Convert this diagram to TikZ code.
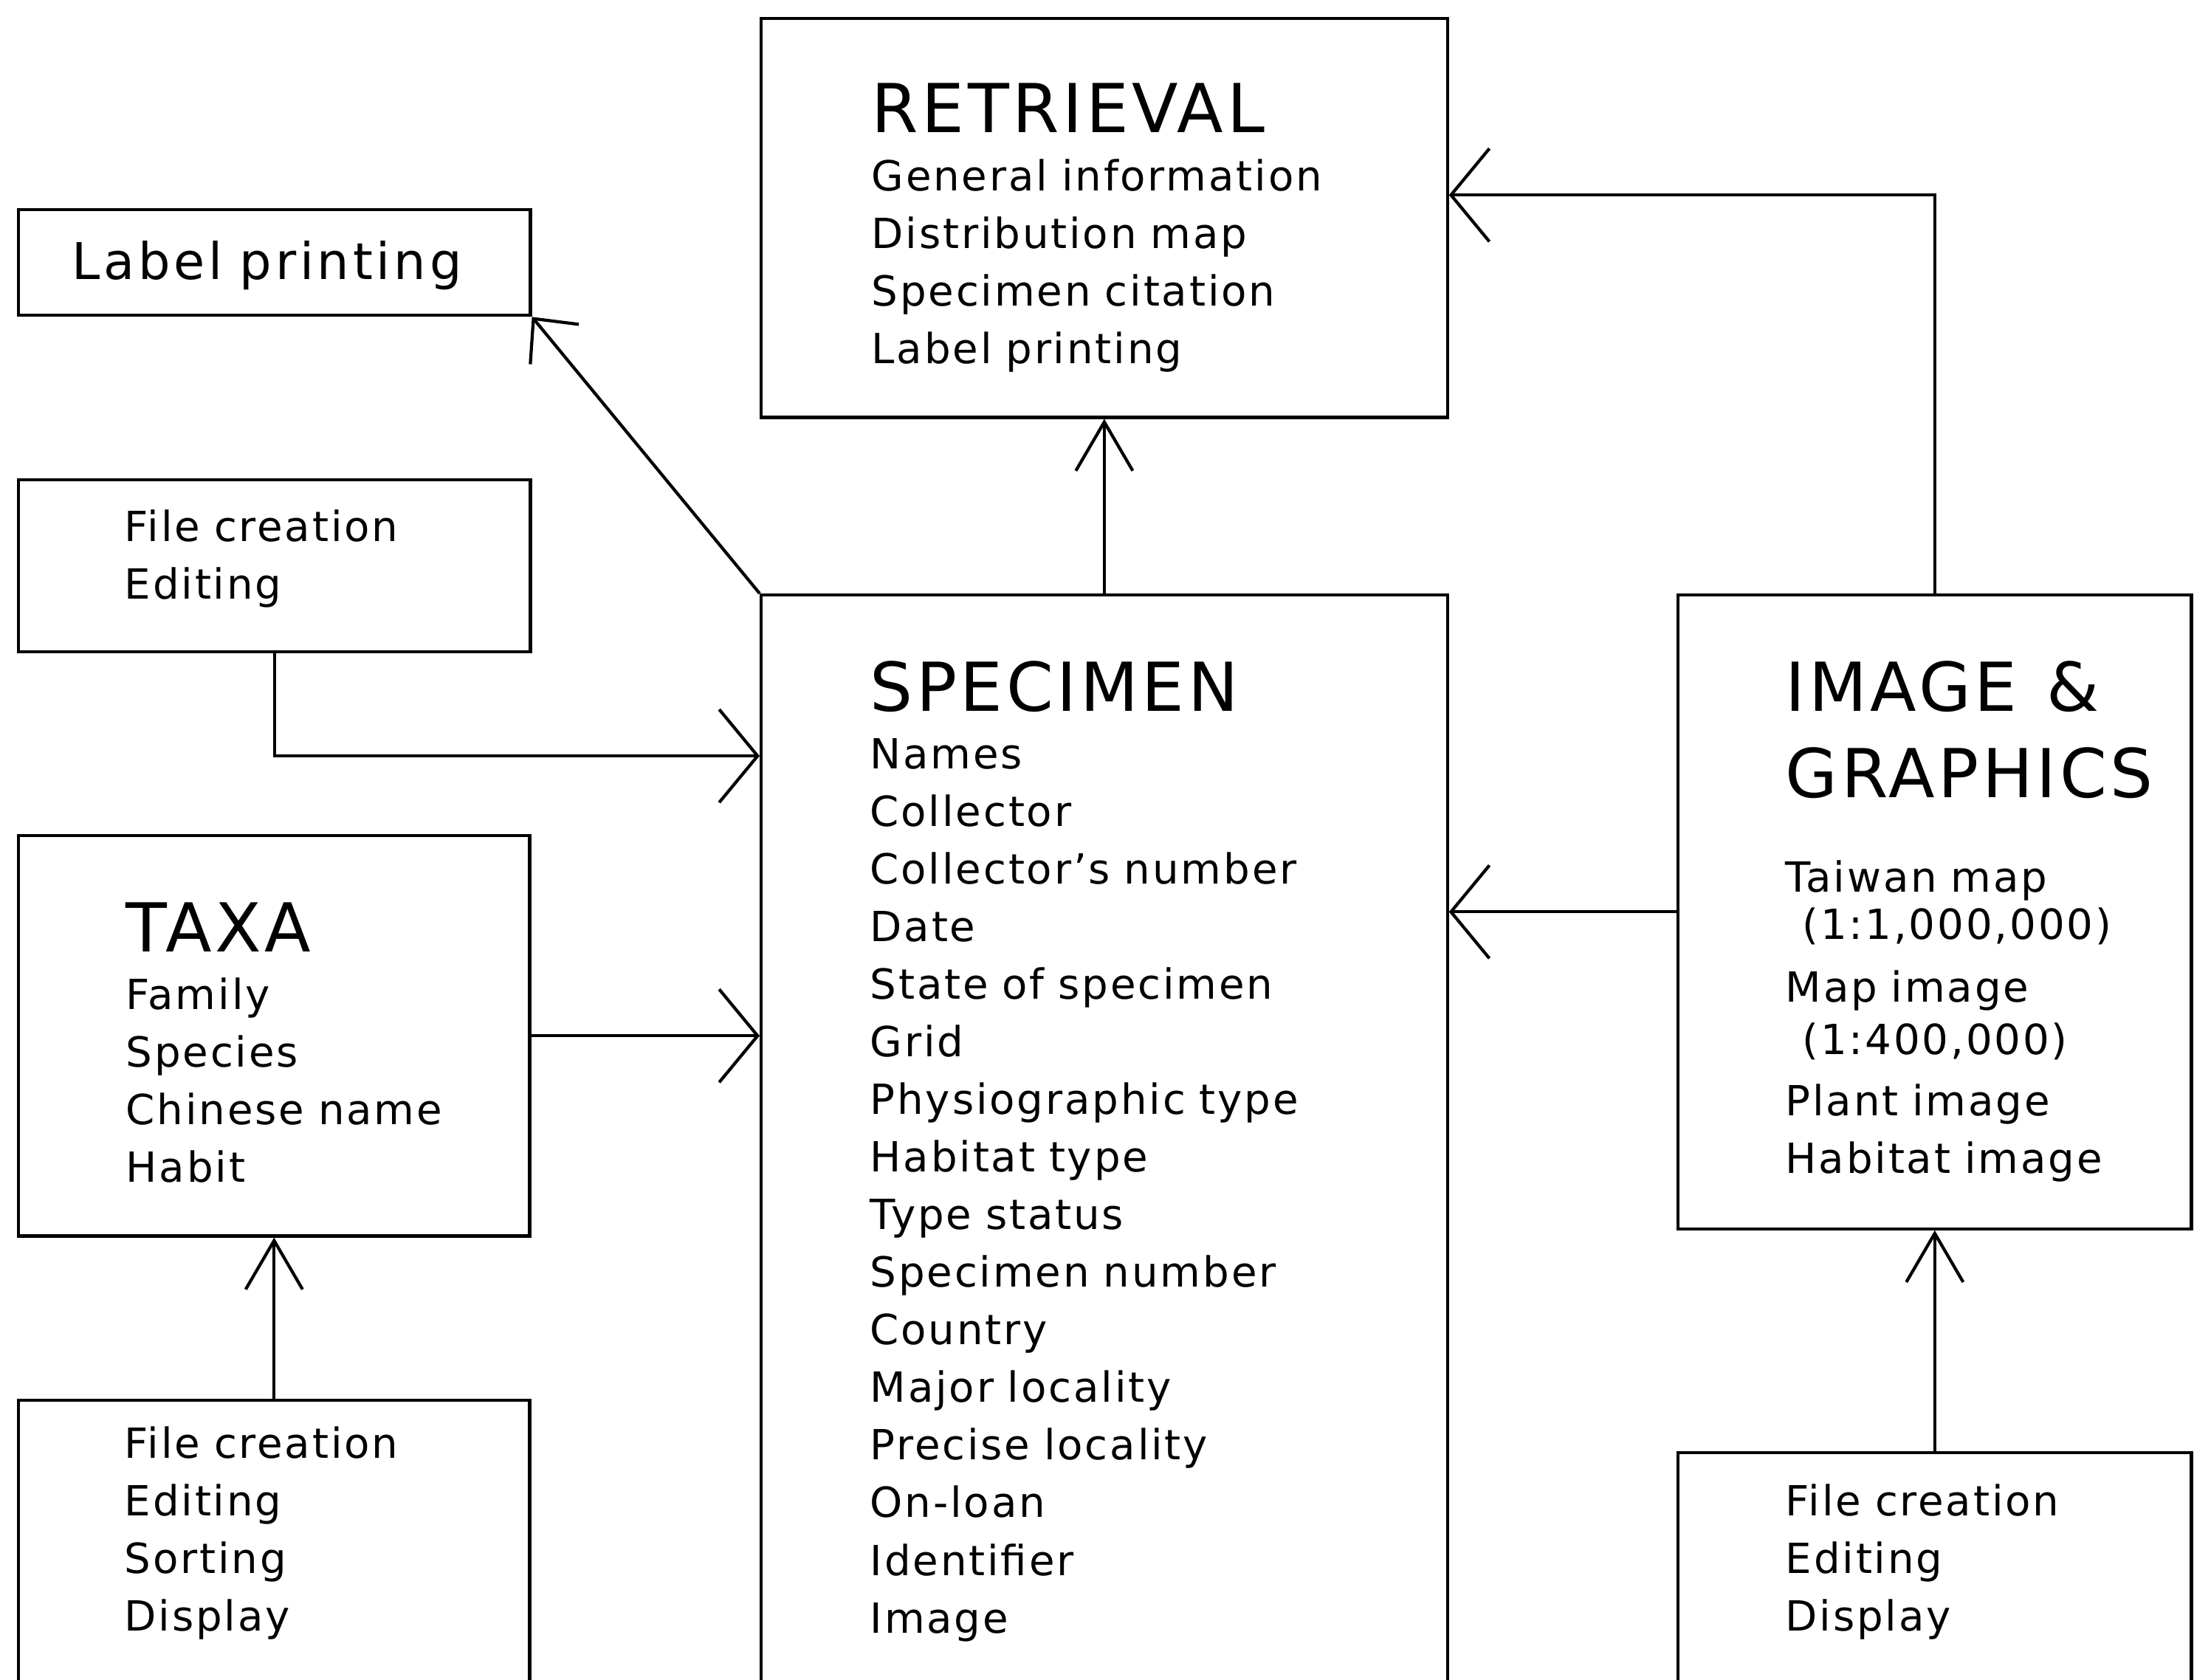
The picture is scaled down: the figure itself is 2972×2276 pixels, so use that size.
\documentclass[tikz,border=0pt]{standalone}
\usepackage{fontspec}
\setmainfont{DejaVu Sans}[LetterSpace=5]
\usepackage{tikz}
\usetikzlibrary{arrows.meta}
\newcommand{\bodyfont}{\fontsize{16}{22.2}\selectfont\fontdimen2\font=0.5em}
\newcommand{\headfont}{\fontsize{26}{22.2}\selectfont}
\newcommand{\tagfont}{\fontsize{19.5}{22.2}\selectfont\addfontfeature{LetterSpace=7}\fontdimen2\font=0.55em}
\tikzset{
    box/.style={draw=black, line width=1.2pt, anchor=north west, inner sep=0pt},
    txt/.style={anchor=base west, align=left, inner sep=0pt, text width=7.5cm, font=\bodyfont},
    link/.style={draw=black, line width=1.2pt},
    htip/.style={link, -{Straight Barb[length=0.52cm, width=1.26cm]}},
    vtip/.style={link, -{Straight Barb[length=0.66cm, width=0.77cm]}},
    dtip/.style={link, -{Straight Barb[length=0.45cm, width=0.85cm]}}}

\begin{document}
\begin{tikzpicture}[x=0.01cm, y=-0.01cm]
        
                    \useasboundingbox (0,0) rectangle (2972,2276);
                    \clip (0,0) rectangle (2972,2276);

                    \node[box, minimum width=9.29cm, minimum height=5.40cm] (ret) at (1029,23) {};
                    \node[box, minimum width=6.93cm, minimum height=1.43cm] (lbl) at (23,282) {};
                    \node[box, minimum width=6.93cm, minimum height=2.33cm] (fcr) at (23,648) {};
                    \node[box, minimum width=6.92cm, minimum height=5.42cm] (taxa) at (23,1130) {};
                    \node[box, minimum width=6.92cm, minimum height=4.50cm] (tfile) at (23,1895) {};
                    \node[box, minimum width=9.29cm, minimum height=15.5cm] (spec) at (1029,804) {};
                    \node[box, minimum width=6.95cm, minimum height=8.58cm] (img) at (2271,804) {};
                    \node[box, minimum width=6.95cm, minimum height=4.00cm] (ifile) at (2271,1966) {};

                    \node[txt] (retT) at (1180,180) {{\headfont RETRIEVAL}\\General information\\Distribution map\\Specimen citation\\Label printing};
                    \node[txt, font=\tagfont] (lblT) at (97,379) {Label printing};
                    \node[txt] (fcrT) at (168,733) {File creation\\Editing};
                    \node[txt] (taxaT) at (170,1289) {{\headfont TAXA}\\Family\\Species\\Chinese name\\Habit};
                    \node[txt] (tfileT) at (168,1975) {File creation\\Editing\\Sorting\\Display};
                    \node[txt] (specT) at (1178,963) {{\headfont SPECIMEN}\\Names\\Collector\\Collector's number\\Date\\State of specimen\\Grid\\Physiographic type\\Habitat type\\Type status\\Specimen number\\Country\\Major locality\\Precise locality\\On-loan\\Identifier\\Image};
                    \node[txt, text width=5.4cm] (imgT) at (2418,963) {{\headfont IMAGE\hspace{0.4cm}\&}\\[11.3pt]{\headfont GRAPHICS}\\[14.1pt]Taiwan map\\[-4.1pt]\hspace*{6.5pt}(1:1,000,000)\\[2.2pt]Map image\\[-2.1pt]\hspace*{6.5pt}(1:400,000)\\[1.3pt]Plant image\\Habitat image};
                    \node[txt, text width=5.4cm] (ifileT) at (2418,2053) {File creation\\Editing\\Display};

                    \draw[vtip] (spec.north) -- (ret.south);
                    \draw[htip] (img.north) |- ([yshift=0.31cm]ret.east);
                    \draw[htip] (img.west) -- (img.west -| spec.east);
                    \draw[htip] (taxa.east) -- (taxa.east -| spec.west);
                    \draw[htip] (fcr.south) |- ([yshift=-2.2cm]spec.north west);
                    \draw[vtip] (tfile.north) -- (taxa.south);
                    \draw[vtip] (ifile.north) -- (img.south);
                    \draw[dtip] (spec.north west) -- (lbl.south east);
    
                \end{tikzpicture}
\end{document}
